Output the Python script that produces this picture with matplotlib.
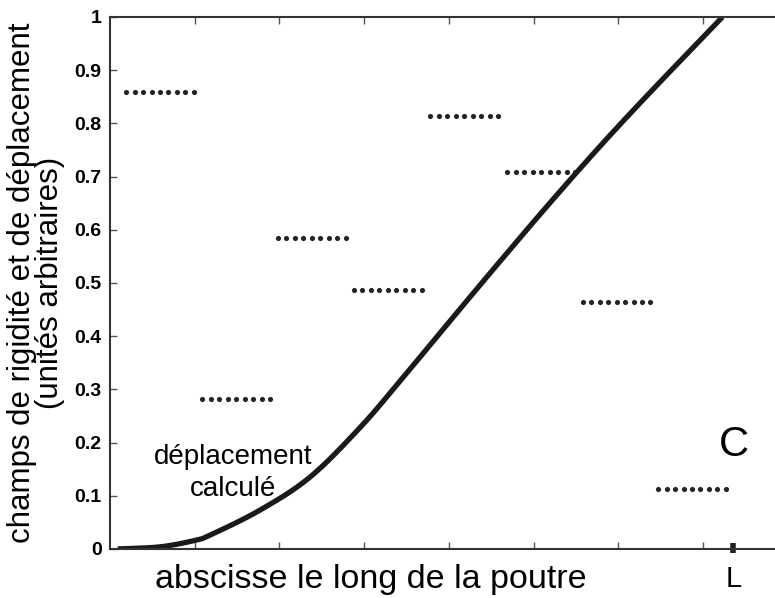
import numpy as np
import matplotlib
matplotlib.use("Agg")
import matplotlib.pyplot as plt

plt.rcParams['font.family'] = ['Liberation Sans', 'DejaVu Sans']

# stiffness field: piecewise-constant values per element
seg_start = [0.19, 1.09, 1.98, 2.88, 3.78, 4.69, 5.58, 6.47]
seg_value = [0.859, 0.282, 0.585, 0.487, 0.814, 0.709, 0.464, 0.113]
dots_per_seg = 9
dot_step = 0.1

# computed displacement curve
curve_x = [0.09, 0.59, 1.0, 1.18, 1.77, 2.36, 2.95, 3.42, 4.01, 4.60, 5.19, 5.79, 6.38, 7.23]
curve_y = [0.0, 0.004, 0.016, 0.026, 0.073, 0.135, 0.228, 0.315, 0.428, 0.540, 0.650, 0.758, 0.859, 1.0]

ytick_vals = [0, 0.1, 0.2, 0.3, 0.4, 0.5, 0.6, 0.7, 0.8, 0.9, 1]
ytick_labels = ['0', '0.1', '0.2', '0.3', '0.4', '0.5', '0.6', '0.7', '0.8', '0.9', '1']
xtick_vals = [1, 2, 3, 4, 5, 6, 7]
L_pos = 7.36


def catmull(px, py, n=40):
    px = np.array(px); py = np.array(py)
    P = np.vstack([px, py]).T
    P = np.vstack([P[0] - (P[1] - P[0]), P, P[-1] + (P[-1] - P[-2])])
    out = []
    for i in range(1, len(P) - 2):
        p0, p1, p2, p3 = P[i-1], P[i], P[i+1], P[i+2]
        t = np.linspace(0, 1, n, endpoint=False)[:, None]
        pt = 0.5 * ((2*p1) + (-p0 + p2)*t + (2*p0 - 5*p1 + 4*p2 - p3)*t**2
                    + (-p0 + 3*p1 - 3*p2 + p3)*t**3)
        out.append(pt)
    out.append(P[-2][None, :])
    return np.vstack(out)


fig = plt.figure(figsize=(7.75, 5.98), dpi=100)
ax = fig.add_axes([0.142, 0.082, 0.858, 0.8896])

for xs, v in zip(seg_start, seg_value):
    xd = xs + dot_step * np.arange(dots_per_seg)
    ax.plot(xd, [v] * dots_per_seg, linestyle='none', marker='o', markersize=3.7,
            color='#222222', markeredgewidth=0)

C = catmull(curve_x, curve_y)
ax.plot(C[:, 0], C[:, 1], color='#1a1a1a', linewidth=3.8, solid_capstyle='butt')

ax.set_xlim(0, 7.85)
ax.set_ylim(0, 1)
ax.set_yticks(ytick_vals)
ax.set_yticklabels(ytick_labels, fontsize=14, fontweight='bold')
ax.set_xticks(xtick_vals)
ax.set_xticklabels([])
ax.tick_params(direction='in', length=5, width=1, colors='#555555', labelcolor='black',
               top=True, bottom=True, left=True, right=False, pad=6)
for s in ['left', 'bottom', 'top']:
    ax.spines[s].set_linewidth(1.5)
    ax.spines[s].set_color('#333333')
ax.spines['right'].set_visible(False)

# L marker
ax.plot([L_pos, L_pos], [-0.008, 0.012], color='#222222', linewidth=4,
        solid_capstyle='butt', clip_on=False)
ax.text(L_pos, -0.057, 'L', ha='center', va='center', fontsize=21)

ax.text(7.36, 0.195, 'C', ha='center', va='center', fontsize=30)
ax.text(1.45, 0.143, 'déplacement\ncalculé', ha='center', va='center', fontsize=20,
        linespacing=1.3)

ax.set_xlabel('abscisse le long de la poutre', fontsize=24.5)
ax.xaxis.set_label_coords(0.392, -0.028)
ax.set_ylabel('champs de rigidité et de déplacement\n(unités arbitraires)', fontsize=22.5,
              linespacing=0.95)
ax.yaxis.set_label_coords(-0.067, 0.5)

fig.savefig('out.png', dpi=100)
